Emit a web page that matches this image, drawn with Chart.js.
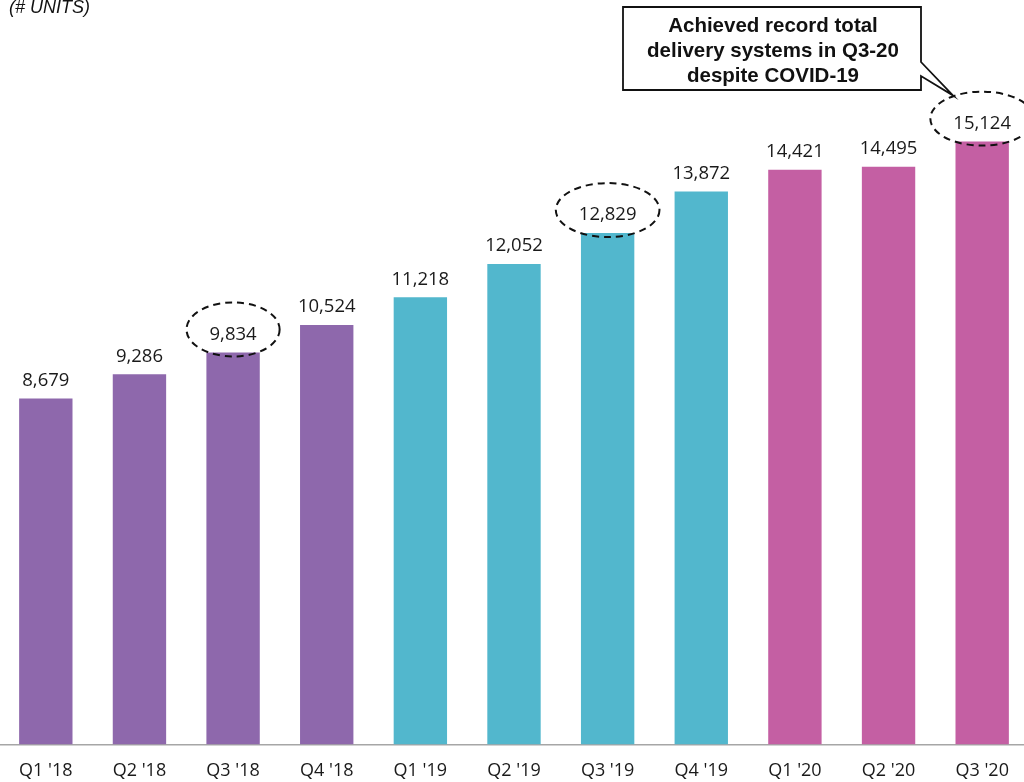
<!DOCTYPE html>
<html>
<head>
<meta charset="utf-8">
<script src="https://cdn.jsdelivr.net/npm/chart.js@4"></script>
<style>
html,body{margin:0;padding:0;background:#fff;overflow:hidden;width:1024px;height:782px;}
#wrap{position:absolute;left:-1px;top:0;width:1030px;height:798px;}
</style>
</head>
<body>
<div id="wrap"><canvas id="c" width="1030" height="798"></canvas></div>
<script>
const categories = ["Q1 '18","Q2 '18","Q3 '18","Q4 '18","Q1 '19","Q2 '19","Q3 '19","Q4 '19","Q1 '20","Q2 '20","Q3 '20"];
const units = [8679, 9286, 9834, 10524, 11218, 12052, 12829, 13872, 14421, 14495, 15124];
const barColors = ["#8E68AC","#8E68AC","#8E68AC","#8E68AC","#52B7CD","#52B7CD","#52B7CD","#52B7CD","#C45FA3","#C45FA3","#C45FA3"];
const circledIdx = [2, 6, 10];
const titleText = "(# UNITS)";
const calloutLines = ["Achieved record total","delivery systems in Q3-20","despite COVID-19"];

const fmt = v => v.toLocaleString('en-US');
const labelFont = '18.5px "Open Sans", sans-serif';

const overlay = {
  id: 'overlay',
  afterDatasetsDraw(chart) {
    const ctx = chart.ctx;
    const meta = chart.getDatasetMeta(0);
    ctx.save();
    ctx.font = labelFont;
    ctx.fillStyle = '#1a1a1a';
    ctx.textAlign = 'center';
    ctx.textBaseline = 'middle';
    meta.data.forEach((bar, i) => {
      ctx.fillText(fmt(units[i]), bar.x, bar.y - 18);
    });
    // dashed ellipses
    ctx.strokeStyle = '#111';
    ctx.lineWidth = 2;
    ctx.setLineDash([7, 5]);
    circledIdx.forEach(i => {
      const bar = meta.data[i];
      const w = ctx.measureText(fmt(units[i])).width;
      ctx.beginPath();
      ctx.ellipse(bar.x, bar.y - 23, w / 2 + 23, 27, 0, 0, Math.PI * 2);
      ctx.stroke();
    });
    ctx.setLineDash([]);
    // title
    ctx.font = 'italic 18px "Liberation Sans", Arial, sans-serif';
    ctx.textAlign = 'left';
    ctx.textBaseline = 'alphabetic';
    ctx.fillStyle = '#111';
    ctx.fillText(titleText, 10, 13);
    // callout box
    const bx = 624, by = 7, bw = 298, bh = 83;
    const last = meta.data[meta.data.length - 1];
    const tipX = last.x - 29, tipY = last.y - 46;
    ctx.fillStyle = '#fff';
    ctx.strokeStyle = '#111';
    ctx.lineWidth = 1.8;
    ctx.beginPath();
    ctx.moveTo(bx, by);
    ctx.lineTo(bx + bw, by);
    ctx.lineTo(bx + bw, by + 55);
    ctx.lineTo(tipX, tipY);
    ctx.lineTo(bx + bw, by + 69);
    ctx.lineTo(bx + bw, by + bh);
    ctx.lineTo(bx, by + bh);
    ctx.closePath();
    ctx.fill();
    ctx.stroke();
    ctx.fillStyle = '#111';
    ctx.font = 'bold 20.5px "Liberation Sans", Arial, sans-serif';
    ctx.textAlign = 'center';
    ctx.textBaseline = 'middle';
    calloutLines.forEach((t, k) => ctx.fillText(t, bx + bw / 2 + 1, by + 19 + k * 25));
    ctx.restore();
  }
};

new Chart(document.getElementById('c'), {
  type: 'bar',
  data: {
    labels: categories,
    datasets: [{
      data: units,
      backgroundColor: barColors,
      borderWidth: 0,
      barPercentage: 0.57,
      categoryPercentage: 1.0
    }]
  },
  options: {
    responsive: false,
    animation: false,
    devicePixelRatio: 1,
    layout: { padding: { top: 27, left: 0, right: 0, bottom: 0 } },
    plugins: { legend: { display: false }, tooltip: { enabled: false } },
    scales: {
      x: {
        grid: { display: false, drawTicks: false },
        border: { display: true, color: '#A6A6A6', width: 1.5 },
        ticks: { color: '#1a1a1a', font: { family: '"Open Sans", sans-serif', size: 18 }, padding: 16, maxRotation: 0 }
      },
      y: { display: false, min: 0, max: 18000 }
    }
  },
  plugins: [overlay]
});
</script>
</body>
</html>
